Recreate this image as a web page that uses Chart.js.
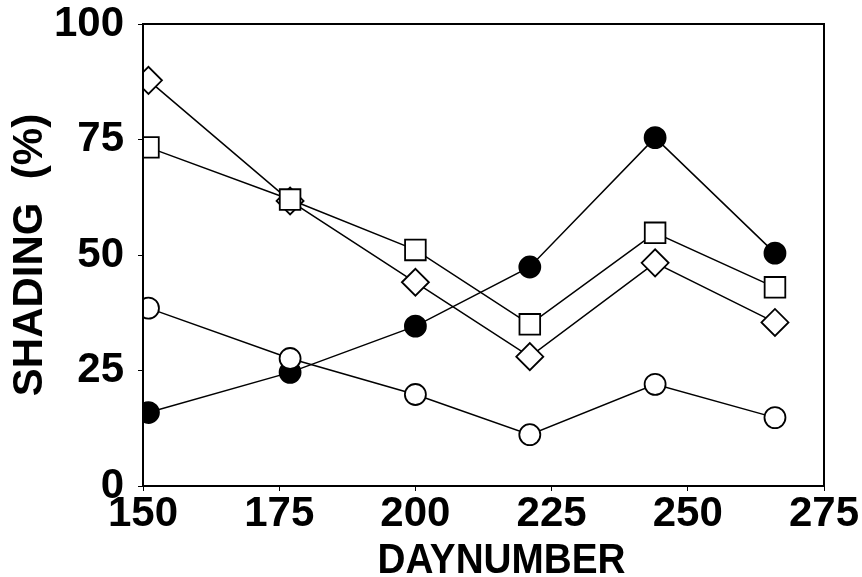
<!DOCTYPE html>
<html>
<head>
<meta charset="utf-8">
<script src="https://cdn.jsdelivr.net/npm/chart.js@4"></script>
<style>
  html, body { margin: 0; padding: 0; background: #fff; }
  #wrap { width: 862px; height: 577px; }
</style>
</head>
<body>
<div id="wrap"><canvas id="shadingChart"></canvas></div>
<script>
const dayNumbers = [151, 177, 200, 221, 244, 266];
const filledCircle = [15.9, 24.6, 34.6, 47.4, 75.4, 50.4];
const openCircle = [38.5, 27.6, 19.8, 11.1, 22.0, 14.8];
const openSquare = [73.3, 62.0, 51.1, 35.0, 54.8, 43.0];
const openDiamond = [87.8, 61.7, 44.1, 28.0, 48.3, 35.4];
const xTicks = [150, 175, 200, 225, 250, 275];
const yTicks = [0, 25, 50, 75, 100];

const FONT = 'Arial, "Liberation Sans", Helvetica, sans-serif';

function series(values, style, radius, fill) {
  return {
    data: dayNumbers.map((d, i) => ({ x: d, y: values[i] })),
    borderColor: '#000',
    borderWidth: 1.5,
    pointStyle: style,
    pointRadius: radius,
    pointHoverRadius: radius,
    pointBackgroundColor: fill,
    pointBorderColor: '#000',
    pointBorderWidth: 1.8,
    tension: 0
  };
}

// frame round the plot area plus the two axis titles
const framePlugin = {
  id: 'frame',
  afterDraw(chart) {
    const { ctx, chartArea: a } = chart;
    ctx.save();
    ctx.strokeStyle = '#000';
    ctx.lineWidth = 2;
    ctx.strokeRect(a.left, a.top, a.right - a.left, a.bottom - a.top);

    ctx.fillStyle = '#000';
    ctx.font = 'bold 43px ' + FONT;
    ctx.textAlign = 'center';
    ctx.textBaseline = 'alphabetic';
    ctx.save();
    ctx.translate((a.left + a.right) / 2 + 18, 573);
    ctx.scale(0.9, 1);
    ctx.fillText('DAYNUMBER', 0, 0);
    ctx.restore();

    ctx.save();
    ctx.translate(42, (a.top + a.bottom) / 2);
    ctx.rotate(-Math.PI / 2);
    ctx.font = 'bold 42px ' + FONT;
    ctx.fillText('SHADING  (%)', 0, 0);
    ctx.restore();
    ctx.restore();
  }
};

new Chart(document.getElementById('shadingChart'), {
  type: 'line',
  data: {
    datasets: [
      series(openSquare, 'rect', 14.6, '#fff'),
      series(openDiamond, 'rectRot', 13.5, '#fff'),
      series(openCircle, 'circle', 10.5, '#fff'),
      series(filledCircle, 'circle', 10.5, '#000')
    ]
  },
  options: {
    responsive: true,
    maintainAspectRatio: false,
    animation: false,
    events: [],
    layout: { padding: { top: 24, right: 38, left: 0, bottom: 0 } },
    plugins: {
      legend: { display: false },
      tooltip: { enabled: false }
    },
    scales: {
      x: {
        type: 'linear',
        min: 150,
        max: 275,
        afterBuildTicks: s => { s.ticks = xTicks.map(v => ({ value: v })); },
        afterFit: s => { s.height = 91; s.paddingLeft = 0; s.paddingRight = 0; },
        grid: { drawOnChartArea: false, drawTicks: true, tickLength: 5, color: '#000', lineWidth: 1 },
        border: { display: true, color: '#000', width: 2 },
        ticks: {
          color: '#000',
          padding: 2,
          maxRotation: 0,
          font: { family: FONT, size: 42, weight: 'bold', lineHeight: 1 }
        }
      },
      y: {
        min: 0,
        max: 100,
        afterBuildTicks: s => { s.ticks = yTicks.map(v => ({ value: v })); },
        afterFit: s => { s.width = 143; s.paddingTop = 0; s.paddingBottom = 0; },
        grid: { drawOnChartArea: false, drawTicks: true, tickLength: 5, color: '#000', lineWidth: 1 },
        border: { display: true, color: '#000', width: 2 },
        ticks: {
          color: '#000',
          padding: 14,
          font: { family: FONT, size: 42, weight: 'bold', lineHeight: 1 }
        }
      }
    }
  },
  plugins: [framePlugin]
});
</script>
</body>
</html>
